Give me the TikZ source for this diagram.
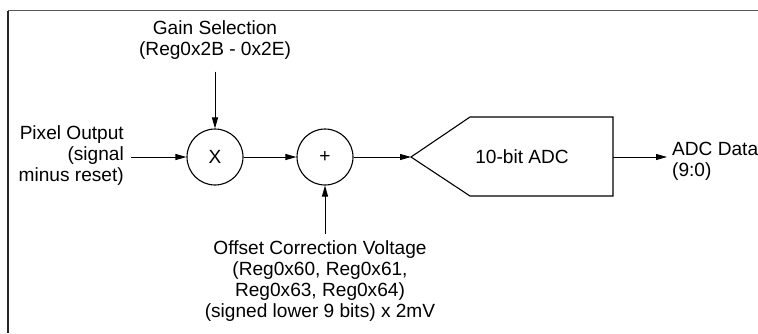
\documentclass[tikz,border=0pt]{standalone}
\usepackage{fontspec}
\setmainfont{Liberation Sans}
\usetikzlibrary{arrows.meta,calc}
\begin{document}
\begin{tikzpicture}[x=1pt,y=-1pt,
  every node/.style={font=\fontsize{19.1}{21}\selectfont, inner sep=0pt},
  sumnode/.style={draw, circle, line width=1.1pt, minimum size=56pt},
  conn/.style={line width=0.9pt, -{Triangle[length=11pt,width=6pt]}},
  frameline/.style={line width=1.3pt}]
\useasboundingbox (0,0) rectangle (758,333);
% frame
\draw[frameline, black!65] (8,10.5) -- (758,10.5);
\draw[frameline, black!85] (8,10.5) -- (8,333);
% blocks
\node[sumnode] (mul) at (215,157) {X};
\node[sumnode] (add) at (325,157) {+};
\coordinate (tip) at (411,157);
\draw[line width=1.1pt] (tip) -- (470,117) -- (613,117) -- (613,196) -- (470,196) -- cycle;
\node (adc) at (522,157) {10-bit ADC};
\coordinate (adcout) at (613,157);
% labels
\node[align=center] (gain) at (215,40) {Gain Selection\\(Reg0x2B - 0x2E)};
\node[align=right, anchor=east] (pix) at (124,156) {Pixel Output\\(signal\\minus reset)};
\node[align=left, anchor=west] (data) at (672,161) {ADC Data\\(9:0)};
\node[align=center] (offset) at (320,281) {Offset Correction Voltage\\(Reg0x60, Reg0x61,\\Reg0x63, Reg0x64)\\(signed lower 9 bits) x 2mV};
% connectors
\draw[conn] ($(gain.south)+(0,12)$) -- (mul.north);
\draw[conn] (pix.east |- mul.west) ++(7,0) -- (mul.west);
\draw[conn] (mul.east) -- (add.west);
\draw[conn] (add.east) -- (tip);
\draw[conn] (adcout) -- ($(data.west |- adcout)+(-5,0)$);
\draw[conn] (add.south |- offset.north) ++(0,-6) -- (add.south);
\end{tikzpicture}
\end{document}
